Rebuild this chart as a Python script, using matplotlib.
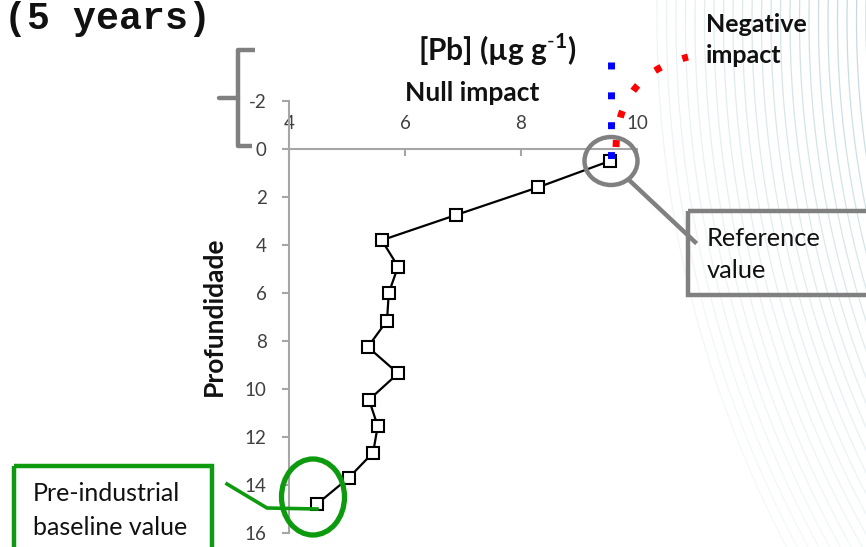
import numpy as np
import matplotlib
matplotlib.use("Agg")
import matplotlib.pyplot as plt
from matplotlib.patches import Ellipse, Rectangle
from matplotlib.collections import LineCollection

plt.rcParams['font.family'] = ['Lato', 'DejaVu Sans']
plt.rcParams['mathtext.fontset'] = 'custom'
plt.rcParams['mathtext.rm'] = 'Lato'
plt.rcParams['mathtext.bf'] = 'Lato:bold'
plt.rcParams['axes.unicode_minus'] = False

# ---- data ----
pb = [9.53, 8.29, 6.88, 5.60, 5.88, 5.72, 5.69, 5.36, 5.88, 5.38, 5.53, 5.45, 5.03, 4.48]
depth = [0.5, 1.6, 2.75, 3.8, 4.9, 6.0, 7.15, 8.25, 9.35, 10.45, 11.55, 12.65, 13.7, 14.8]
x_ticks = [4, 6, 8, 10]
y_ticks = [-2, 0, 2, 4, 6, 8, 10, 12, 14, 16]

W, H = 866, 547
fig = plt.figure(figsize=(W / 100, H / 100), dpi=100)

# ---- background decorative arcs ----
bg = fig.add_axes([0, 0, 1, 1], zorder=0)
bg.set_xlim(0, W); bg.set_ylim(H, 0); bg.axis('off')
cx, cy = 1789, 21
segs, cols = [], []
for R in np.arange(923, 1135, 9.5):
    yy = np.linspace(-5, H + 5, 120)
    xx = cx - np.sqrt(R ** 2 - (yy - cy) ** 2)
    pts = np.column_stack([xx, yy])
    for i in range(len(pts) - 1):
        segs.append(pts[i:i + 2])
        f_r = 1 - (R - 923) / 260
        f_y = 1 - 0.7 * (yy[i] / H)
        a = 0.5 * f_r * f_y + 0.06
        cols.append((0.55, 0.72, 0.76, min(a, 0.6)))
bg.add_collection(LineCollection(segs, colors=cols, linewidths=0.9))

# ---- main chart ----
ax = fig.add_axes([289 / W, 14 / H, 348 / W, 432 / H], zorder=1)
ax.set_facecolor('none')
ax.plot(pb, depth, color='black', lw=1.6, marker='s', markersize=8,
        markerfacecolor='white', markeredgecolor='black', markeredgewidth=1.5,
        clip_on=False, zorder=3)
ax.set_xlim(4, 10)
ax.set_ylim(16, -2)
ax.set_xticks(x_ticks)
ax.set_yticks(y_ticks)
for s in ['bottom', 'right']:
    ax.spines[s].set_visible(False)
spine_col = '#a6a6a6'
ax.spines['left'].set_color(spine_col)
ax.spines['left'].set_linewidth(1.5)
ax.spines['top'].set_color(spine_col)
ax.spines['top'].set_linewidth(1.5)
ax.spines['top'].set_position(('data', 0))
ax.xaxis.set_ticks_position('top')
ax.tick_params(axis='x', direction='in', length=5, width=1.5, color=spine_col,
               pad=12, labelsize=13.5, labelcolor='#404040')
ax.tick_params(axis='y', direction='out', length=5, width=1.5, color=spine_col,
               pad=11, labelsize=13.5, labelcolor='#404040')

# ---- overlay annotations in pixel coordinates ----
ov = fig.add_axes([0, 0, 1, 1], zorder=2)
ov.set_xlim(0, W); ov.set_ylim(H, 0); ov.axis('off')

ov.text(4, 29, '(5 years)', family='Liberation Mono', fontweight='bold',
        fontsize=27.5, ha='left', va='baseline', color='#111111')

# bracket
gray = '#808080'
ov.plot([255, 238, 238, 252], [50, 50, 146, 146], color=gray, lw=3.2,
        solid_joinstyle='round', solid_capstyle='butt')
ov.plot([219, 238], [98, 98], color=gray, lw=3.2, solid_capstyle='round')

ov.text(497, 61, r'[Pb] (µg g$^{\mathbf{\text{-}1}}$)', fontsize=21.5, fontweight='bold',
        ha='center', va='baseline', color='#111111')
ov.text(472, 101, 'Null impact', fontsize=19, fontweight='bold',
        ha='center', va='baseline', color='#111111')
ov.text(706, 32, 'Negative', fontsize=18, fontweight='bold',
        ha='left', va='baseline', color='#111111')
ov.text(706, 63, 'impact', fontsize=18, fontweight='bold',
        ha='left', va='baseline', color='#111111')
ov.text(214, 316, 'Profundidade', fontsize=19, fontweight='bold', rotation=90,
        ha='center', va='center', color='#111111')

# blue dotted vertical
ov.plot([611, 611], [62, 164], color='#0000ff', lw=5, dashes=(1, 3.3),
        dash_capstyle='butt')
# red dotted curve
t = np.linspace(0, 1, 200)
P0, P1, P2 = np.array([616, 147]), np.array([618, 75]), np.array([688, 57])
bez = ((1 - t) ** 2)[:, None] * P0 + (2 * (1 - t) * t)[:, None] * P1 + (t ** 2)[:, None] * P2
ov.plot(bez[:, 0], bez[:, 1], color='#ff0000', lw=5, dashes=(1, 3.3),
        dash_capstyle='butt')

# reference circle & box
ov.add_patch(Ellipse((611, 161), 53, 48, fill=False, edgecolor=gray, lw=3.2))
ov.plot([629, 695], [180, 242], color=gray, lw=3.2)
ov.add_patch(Rectangle((688, 211), 200, 84, fill=False, edgecolor=gray, lw=3.2,
                       clip_on=False))
ov.text(707, 246, 'Reference', fontsize=18.3, ha='left', va='baseline', color='#111111')
ov.text(707, 278, 'value', fontsize=18.3, ha='left', va='baseline', color='#111111')

# pre-industrial circle & box
green = '#0e9a0e'
ov.add_patch(Ellipse((313, 497), 63, 76, fill=False, edgecolor=green, lw=3.8))
ov.plot([227, 267, 317], [484, 508, 509], color=green, lw=2.6)
ov.add_patch(Rectangle((14, 466), 198, 100, fill=False, edgecolor=green, lw=3.2))
ov.text(33, 501, 'Pre-industrial', fontsize=18, ha='left', va='baseline', color='#111111')
ov.text(33, 535, 'baseline value', fontsize=18, ha='left', va='baseline', color='#111111')

fig.savefig('out.png', dpi=100)
